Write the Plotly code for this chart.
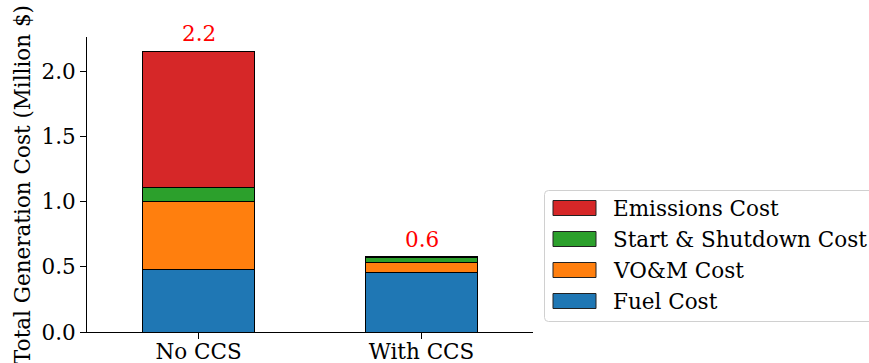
import plotly.graph_objects as go

# Scenario categories and stacked cost components (million $)
categories = ["No CCS", "With CCS"]
fuel_cost = [0.477, 0.459]
vom_cost = [0.527, 0.074]
start_shutdown_cost = [0.104, 0.040]
emissions_cost = [1.050, 0.004]

series_names = ["Fuel Cost", "VO&M Cost", "Start & Shutdown Cost", "Emissions Cost"]
series_values = [fuel_cost, vom_cost, start_shutdown_cost, emissions_cost]
series_colors = ["#1f77b4", "#ff7f0e", "#2ca02c", "#d62728"]

totals = [sum(v) for v in zip(*series_values)]

W, H = 869, 363
ML, MR, MT, MB = 87, 336, 37, 31
PW, PH = W - ML - MR, H - MT - MB
FONT = "DejaVu Serif"
FS = 21.5


def px_x(px):
    return (px - ML) / PW


def px_y(py):
    return (H - MB - py) / PH


fig = go.Figure()
for name, vals, color in zip(series_names, series_values, series_colors):
    fig.add_trace(go.Bar(
        x=categories, y=vals, name=name, width=0.5,
        marker=dict(color=color, line=dict(color="black", width=1)),
        showlegend=False,
    ))

# Total labels above each stack
for cat, tot in zip(categories, totals):
    fig.add_annotation(
        x=cat, y=tot, text=f"{tot:.1f}", showarrow=False,
        yanchor="bottom", yshift=3,
        font=dict(family=FONT, size=FS, color="red"),
    )

# Legend frame (rounded box)
lx0, ly0, lx1, ly1, r = 544.5, 190.5, 875, 321.5, 4
path = (
    f"M {px_x(lx0 + r)},{px_y(ly0)} L {px_x(lx1)},{px_y(ly0)} "
    f"L {px_x(lx1)},{px_y(ly1)} L {px_x(lx0 + r)},{px_y(ly1)} "
    f"Q {px_x(lx0)},{px_y(ly1)} {px_x(lx0)},{px_y(ly1 - r)} "
    f"L {px_x(lx0)},{px_y(ly0 + r)} "
    f"Q {px_x(lx0)},{px_y(ly0)} {px_x(lx0 + r)},{px_y(ly0)} Z"
)
fig.add_shape(type="path", path=path, xref="paper", yref="paper",
              line=dict(color="#d0d0d0", width=1), fillcolor="rgba(255,255,255,0.8)",
              layer="above")

# Legend entries, top to bottom in reverse stacking order
row_centers = [208, 239, 270, 301]
for (name, color), yc in zip(list(zip(series_names, series_colors))[::-1], row_centers):
    fig.add_shape(type="rect", xref="paper", yref="paper",
                  x0=px_x(553), x1=px_x(596), y0=px_y(yc - 7.5), y1=px_y(yc + 7.5),
                  fillcolor=color, line=dict(color="#222222", width=1), layer="above")
    fig.add_annotation(xref="paper", yref="paper", x=px_x(611), y=px_y(yc),
                       xanchor="left", yanchor="middle", text=name, showarrow=False,
                       font=dict(family=FONT, size=FS, color="black"))

fig.update_layout(
    width=W, height=H,
    margin=dict(l=ML, r=MR, t=MT, b=MB, pad=0, autoexpand=False),
    barmode="stack",
    plot_bgcolor="white", paper_bgcolor="white",
    font=dict(family=FONT, size=FS, color="black"),
    xaxis=dict(
        range=[-0.5, 1.5], showline=True, linecolor="black", linewidth=1,
        ticks="outside", ticklen=6, tickcolor="black", showgrid=False,
        automargin=False, ticklabelstandoff=-6,
        tickfont=dict(family=FONT, size=FS, color="black"),
    ),
    yaxis=dict(
        range=[0, 2.266], tickvals=[0, 0.5, 1.0, 1.5, 2.0], tickformat=".1f",
        showline=True, linecolor="black", linewidth=1,
        ticks="outside", ticklen=6, tickcolor="black", showgrid=False, zeroline=False,
        automargin=False,
        tickfont=dict(family=FONT, size=FS, color="black"),
        title=dict(text="Total Generation Cost (Million $)", standoff=4,
                   font=dict(family=FONT, size=FS, color="black")),
    ),
)

fig.write_html("out.html")
